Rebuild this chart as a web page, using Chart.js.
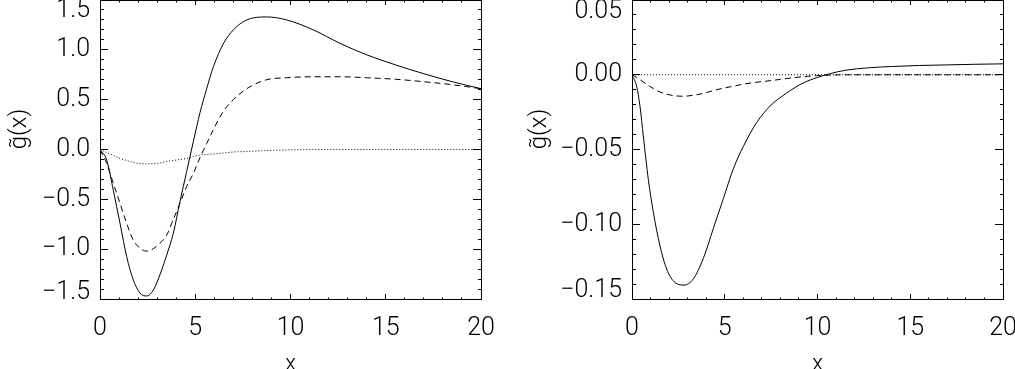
<!DOCTYPE html>
<html>
<head>
<meta charset="utf-8">
<script src="https://cdn.jsdelivr.net/npm/chart.js@4/dist/chart.umd.min.js"></script>
<style>
  html, body { margin: 0; padding: 0; background: #fff; }
  #wrap { position: relative; width: 1015px; height: 369px; }
  #left { position: absolute; left: 0; top: 0; }
  #right { position: absolute; left: 507px; top: 0; }
</style>
</head>
<body>
<div id="wrap">
  <canvas id="left" width="507" height="369"></canvas>
  <canvas id="right" width="508" height="369"></canvas>
</div>
<script>
// ---- left panel data ----
const leftX = [0, 0.35, 0.7, 1.05, 1.4, 1.75, 2.1, 2.45, 2.8, 3.15, 3.5, 3.85, 4.2, 4.55, 4.9,
  5.25, 5.6, 5.95, 6.5, 7, 7.7, 8.75, 9.8, 11.2, 12.6, 14, 15.5, 17, 18.5, 20];
const leftSolid = [0, -0.105, -0.41, -0.74, -1.075, -1.31, -1.44, -1.47, -1.41, -1.255, -1.06, -0.84, -0.52, -0.22, 0.08,
  0.37, 0.61, 0.83, 1.07, 1.2, 1.3, 1.33, 1.3, 1.2, 1.065, 0.95, 0.85, 0.76, 0.68, 0.61];
const leftDashed = [0, -0.14, -0.34, -0.54, -0.74, -0.91, -0.99, -1.02, -0.995, -0.94, -0.86, -0.7, -0.54, -0.37, -0.24,
  -0.08, 0.06, 0.2, 0.39, 0.5, 0.61, 0.7, 0.72, 0.73, 0.73, 0.72, 0.705, 0.68, 0.65, 0.61];
const leftDotted = [0, -0.03, -0.06, -0.09, -0.11, -0.13, -0.14, -0.145, -0.14, -0.135, -0.12, -0.11, -0.1, -0.09, -0.07,
  -0.055, -0.05, -0.045, -0.035, -0.025, -0.02, -0.01, -0.005, 0, 0, 0, 0, 0, 0, 0];

// ---- right panel data ----
const rightX = [0, 0.25, 0.43, 0.61, 0.88, 1.15, 1.51, 1.87, 2.32, 2.8, 3.3, 3.84, 4.38, 4.92, 5.46,
  6, 6.72, 7.44, 8.34, 9.23, 10, 10.7, 11.5, 12.8, 14, 15.5, 17, 18.5, 20];
const rightSolid = [0, -0.0078, -0.021, -0.041, -0.07, -0.092, -0.1145, -0.13, -0.139, -0.1407, -0.1367, -0.123, -0.103, -0.083, -0.063,
  -0.048, -0.032, -0.021, -0.0122, -0.0055, -0.0018, 0.0008, 0.003, 0.0047, 0.0055, 0.0062, 0.0066, 0.007, 0.0073];
const rightDashed = [0, -0.0018, -0.0033, -0.0048, -0.0071, -0.0092, -0.0115, -0.013, -0.0141, -0.0144, -0.0137, -0.0125, -0.0106, -0.009, -0.0077,
  -0.0063, -0.005, -0.004, -0.0025, -0.0013, -0.0006, -0.0002, 0, 0, 0, 0, 0, 0, 0];
const rightDotted = [0, 0, 0, 0, 0, 0, 0, 0, 0, 0, 0, 0, 0, 0, 0,
  0, 0, 0, 0, 0, 0, 0, 0, 0, 0, 0, 0, 0, 0];

const xTickLabels = ['0', '5', '10', '15', '20'];
// leading spaces push the rotated label up a little, like the original
const yTitle = '       g\u0303(x)';

const FONT = 'Roboto';

function isMultiple(v, step) {
  const r = v / step;
  return Math.abs(r - Math.round(r)) < 1e-6;
}

function fmt(v, digits) {
  const s = Math.abs(v).toFixed(digits);
  return v < -1e-9 ? '\u2212' + s : s;
}

function line(xs, ys, dash) {
  return {
    data: xs.map((x, i) => ({ x: x, y: ys[i] })),
    borderColor: '#000',
    borderWidth: 1,
    borderDash: dash,
    pointRadius: 0,
    fill: false,
    cubicInterpolationMode: 'monotone'
  };
}

function makePanel(id, p) {
  // inward tick marks; minor ones are shortened with a dash pattern
  const xTicks = (startInside) => ({
    display: true,
    drawOnChartArea: false,
    drawTicks: true,
    tickLength: -5,
    tickColor: '#000',
    tickWidth: 1,
    tickBorderDash: (c) => (c.tick && isMultiple(c.tick.value, 5)) ? [] : (startInside ? [0, 2.5, 3] : [2.5, 10])
  });
  const yTicks = (startInside) => ({
    display: true,
    drawOnChartArea: false,
    drawTicks: true,
    tickLength: -8,
    tickColor: '#000',
    tickWidth: 1,
    tickBorderDash: (c) => (c.tick && isMultiple(c.tick.value, p.yMajor)) ? [] : (startInside ? [0, 4, 4] : [4, 10])
  });
  const border = { display: true, color: '#000', width: 1 };

  new Chart(document.getElementById(id), {
    type: 'line',
    data: {
      datasets: [
        line(p.xs, p.solid, []),
        line(p.xs, p.dashed, [6, 4]),
        line(p.xs, p.dotted, [1, 2])
      ]
    },
    options: {
      responsive: false,
      animation: false,
      events: [],
      layout: { padding: 0 },
      plugins: { legend: { display: false }, tooltip: { enabled: false } },
      scales: {
        x: {
          type: 'linear', position: 'bottom', min: 0, max: 20,
          border: border,
          grid: xTicks(false),
          ticks: {
            stepSize: 1, autoSkip: false, maxRotation: 0, minRotation: 0,
            padding: 20, color: '#000',
            font: { family: FONT, size: 25, weight: 300 },
            callback: (v) => isMultiple(v, 5) ? xTickLabels[Math.round(v / 5)] : ''
          },
          title: {
            display: true, text: 'x', color: '#000',
            font: { family: FONT, size: 22, weight: 300, lineHeight: 0.6 },
            padding: { top: 0, bottom: -2.5 }
          },
          afterFit: (s) => { s.height = 70; s.paddingLeft = 0; s.paddingRight = 0; }
        },
        xTop: {
          type: 'linear', position: 'top', min: 0, max: 20,
          border: border,
          grid: xTicks(true),
          ticks: { stepSize: 1, autoSkip: false, display: false },
          afterFit: (s) => { s.height = 0; s.paddingLeft = 0; s.paddingRight = 0; }
        },
        y: {
          type: 'linear', position: 'left', min: p.yMin, max: p.yMax,
          border: border,
          grid: yTicks(true),
          ticks: {
            stepSize: p.yStep, autoSkip: false, padding: 18, color: '#000',
            font: (c) => {
              let lh = 1.2;
              if (c.tick && Math.abs(c.tick.value - p.yMax) < 1e-9) lh = p.topShift * 2 / 25;
              if (c.tick && Math.abs(c.tick.value - p.yMin) < 1e-9) lh = p.bottomShift * 2 / 25;
              return { family: FONT, size: 25, weight: 300, lineHeight: lh };
            },
            callback: (v) => {
              if (!isMultiple(v, p.yMajor)) return '';
              const s = fmt(v, p.digits);
              if (Math.abs(v - p.yMax) < 1e-9) return ['', s];
              if (Math.abs(v - p.yMin) < 1e-9) return [s, ''];
              return s;
            }
          },
          title: {
            display: true, text: yTitle, color: '#000',
            font: { family: FONT, size: 24, weight: 300 },
            padding: { top: p.titlePad, bottom: 0 }
          },
          afterFit: (s) => { s.width = p.yWidth; s.paddingTop = 0; s.paddingBottom = 0; }
        },
        yRight: {
          type: 'linear', position: 'right', min: p.yMin, max: p.yMax,
          border: border,
          grid: yTicks(false),
          ticks: { stepSize: p.yStep, autoSkip: false, display: false },
          afterFit: (s) => { s.width = p.rightWidth; s.paddingTop = 0; s.paddingBottom = 0; }
        }
      }
    }
  });
}

makePanel('left', {
  xs: leftX, solid: leftSolid, dashed: leftDashed, dotted: leftDotted,
  yMin: -1.5, yMax: 1.5, yStep: 0.1, yMajor: 0.5, digits: 1,
  yWidth: 100, rightWidth: 26, titlePad: 6, topShift: 10.5, bottomShift: 6.5
});

makePanel('right', {
  xs: rightX, solid: rightSolid, dashed: rightDashed, dotted: rightDotted,
  yMin: -0.15, yMax: 0.05, yStep: 0.01, yMajor: 0.05, digits: 2,
  yWidth: 125, rightWidth: 12, titlePad: 19, topShift: 12, bottomShift: 8
});
</script>
</body>
</html>
